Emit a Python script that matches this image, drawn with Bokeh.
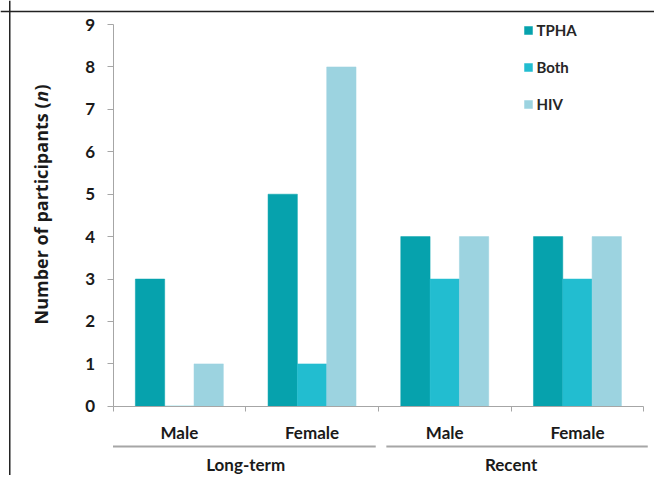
import numpy as np
from bokeh.plotting import figure
from bokeh.models import (ColumnDataSource, Range1d, LinearAxis, FixedTicker, Legend,
                          LegendItem, Span, Label)
from bokeh.transform import dodge
from bokeh.embed import file_html
from bokeh.resources import INLINE

# ---- data ----
sexes = ["Male", "Female", "Male", "Female"]
groups = ["Long-term", "Recent"]
series = ["TPHA", "Both", "HIV"]
tpha = [3, 5, 4, 4]
both = [0, 1, 3, 3]
hiv = [1, 8, 4, 4]
y_ticks = list(range(0, 10))
y_title = "Number of participants ("
y_title_italic = "n"
y_title_end = ")"

colors = ["#06A2AD", "#22BDD0", "#9CD3E0"]
FONT = "Lato"
TFONT = "Open Sans"
TXT = "#1a1a1a"
GRAY = "#a6a6a6"

centers = np.arange(len(sexes)) + 0.5
src = ColumnDataSource(dict(x=centers, TPHA=tpha, Both=both, HIV=hiv))

W, H = 654, 475
p = figure(width=W, height=H, x_range=Range1d(-0.8478, 4.0807), y_range=Range1d(-1.631, 9.566),
           x_axis_type=None, y_axis_type=None, output_backend="svg", toolbar_location=None,
           min_border=0, outline_line_color=None)
p.min_border_left = p.min_border_right = p.min_border_top = p.min_border_bottom = 0

bw = 0.221
offs = [-bw, 0.0, bw]
rs = []
for s, c, o in zip(series, colors, offs):
    r = p.vbar(x=dodge("x", o, range=p.x_range), top=s, width=bw, bottom=0, source=src,
               fill_color=c, line_color=c, line_width=0.5)
    rs.append(r)

# y axis
ya = LinearAxis(fixed_location=0, bounds=(0, 9), ticker=FixedTicker(ticks=y_ticks, minor_ticks=[]))
ya.axis_line_color = GRAY
ya.major_tick_line_color = GRAY
ya.major_tick_out = 6
ya.major_tick_in = 0
ya.minor_tick_line_color = None
ya.major_label_standoff = 12
ya.major_label_text_font = FONT
ya.major_label_text_font_style = "bold"
ya.major_label_text_font_size = "17px"
ya.major_label_text_color = TXT
p.add_layout(ya, "left")

# x axis line with boundary ticks
n = len(sexes)
xa = LinearAxis(fixed_location=0, bounds=(0, n), ticker=FixedTicker(ticks=list(range(n + 1)), minor_ticks=[]))
xa.axis_line_color = GRAY
xa.major_tick_line_color = GRAY
xa.major_tick_out = 5
xa.major_tick_in = 0
xa.minor_tick_line_color = None
xa.major_label_text_color = None
p.add_layout(xa, "below")

# category labels
xa2 = LinearAxis(fixed_location=0, ticker=FixedTicker(ticks=list(centers), minor_ticks=[]),
                 major_label_overrides={float(c): s for c, s in zip(centers, sexes)})
xa2.axis_line_color = None
xa2.major_tick_line_color = None
xa2.major_tick_out = 0
xa2.major_tick_in = 0
xa2.minor_tick_line_color = None
xa2.major_label_standoff = 16
xa2.major_label_text_font = FONT
xa2.major_label_text_font_style = "bold"
xa2.major_label_text_font_size = "17px"
xa2.major_label_text_color = TXT
p.add_layout(xa2, "below")

# group labels
gcent = [1.0, 3.0]
xa3 = LinearAxis(fixed_location=0, ticker=FixedTicker(ticks=gcent, minor_ticks=[]),
                 major_label_overrides={float(c): s for c, s in zip(gcent, groups)})
xa3.axis_line_color = None
xa3.major_tick_line_color = None
xa3.major_tick_out = 0
xa3.major_tick_in = 0
xa3.minor_tick_line_color = None
xa3.major_label_standoff = 48
xa3.major_label_text_font = FONT
xa3.major_label_text_font_style = "bold"
xa3.major_label_text_font_size = "17px"
xa3.major_label_text_color = TXT
p.add_layout(xa3, "below")

# group separator lines
p.segment(x0=[0.0, 2.06], y0=[-0.95, -0.95], x1=[1.98, 4.03], y1=[-0.95, -0.95],
          line_color=GRAY, line_width=2)

# outer frame lines (top and left)
p.add_layout(Span(location=9.307, dimension="width", line_color="#222222", line_width=1.5))
p.add_layout(Span(location=-0.778, dimension="height", line_color="#222222", line_width=1.5))

# y axis title
lx = 40
ly = 391
p.add_layout(Label(x=lx, y=ly, x_units="screen", y_units="screen", text=y_title_end, angle=np.pi / 2,
                   text_align="right", text_baseline="middle", text_font=TFONT, text_font_style="bold",
                   text_font_size="18px", text_color=TXT))
p.add_layout(Label(x=lx, y=ly - 6.3, x_units="screen", y_units="screen", text=y_title_italic, angle=np.pi / 2,
                   text_align="right", text_baseline="middle", text_font=TFONT, text_font_style="bold italic",
                   text_font_size="18px", text_color=TXT))
p.add_layout(Label(x=lx, y=ly - 18, x_units="screen", y_units="screen", text=y_title, angle=np.pi / 2,
                   text_align="right", text_baseline="middle", text_font=TFONT, text_font_style="bold",
                   text_font_size="18px", text_color=TXT))

legend = Legend(items=[LegendItem(label=s, renderers=[r]) for s, r in zip(series, rs)],
                location=(522.5, 361.3), glyph_width=10, glyph_height=10, label_height=20,
                spacing=17, padding=0, margin=0, border_line_color=None, background_fill_alpha=0,
                label_standoff=4, label_text_font=FONT, label_text_font_style="bold",
                label_text_font_size="15px", label_text_color="#262626")
p.add_layout(legend)

open("out.html", "w").write(file_html(p, INLINE))
